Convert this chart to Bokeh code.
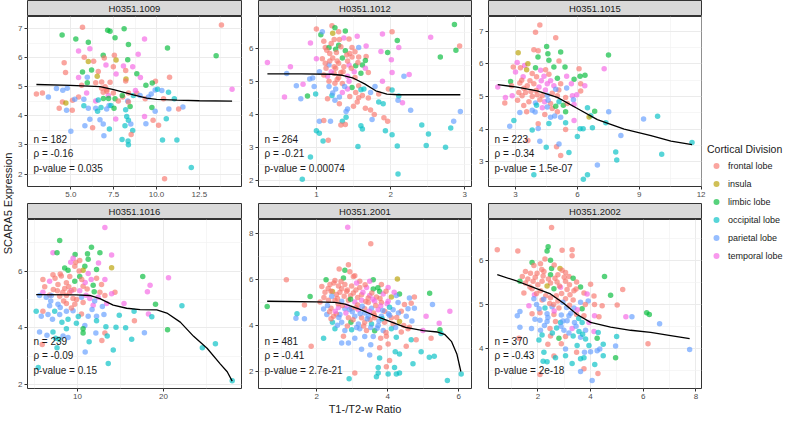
import math
from bokeh.plotting import figure
from bokeh.models import (Range1d, FixedTicker, NumeralTickFormatter, Label,
                          Legend, LegendItem, ColumnDataSource)
from bokeh.layouts import row, column
from bokeh.embed import file_html
from bokeh.resources import INLINE
from bokeh.core.properties import value

FONT = "Liberation Sans"

divisions = ["frontal lobe", "insula", "limbic lobe", "occipital lobe",
             "parietal lobe", "temporal lobe"]
division_codes = ["F", "I", "L", "O", "P", "T"]
division_colors = ["#F8766D", "#B79F00", "#00BA38", "#00BFC4", "#619CFF", "#F564E3"]

panel_names = ["H0351.1009", "H0351.1012", "H0351.1015",
               "H0351.1016", "H0351.2001", "H0351.2002"]
stat_n = ["n = 182", "n = 264", "n = 223", "n = 239", "n = 481", "n = 370"]
stat_rho = ["\u03c1 = -0.16", "\u03c1 = -0.21", "\u03c1 = -0.34",
            "\u03c1 = -0.09", "\u03c1 = -0.41", "\u03c1 = -0.43"]
stat_p = ["p-value = 0.035", "p-value = 0.00074", "p-value = 1.5e-07",
          "p-value = 0.15", "p-value = 2.7e-21", "p-value = 2e-18"]

x_title = "T1-/T2-w Ratio"
y_title = "SCARA5 Expression"
legend_title = "Cortical Division"

# ---------------- panel 1 : H0351.1009 ----------------
p1_x = [13.79, 5.68, 7.15, 7.29, 8.11, 4.49, 5.29, 7.58, 9.30, 6.02,
        8.36, 10.64, 13.48, 5.45, 6.11, 8.93, 6.89, 5.78, 6.95, 7.54,
        4.61, 6.02, 6.33, 7.64, 8.32, 7.05, 7.48, 8.07, 8.61, 4.69,
        5.68, 6.21, 6.60, 8.20, 8.85, 5.45, 5.96, 6.54, 7.64, 8.22,
        9.06, 5.96, 6.45, 6.80, 7.29, 9.38, 9.94, 10.76, 9.75, 5.63,
        2.99, 3.34, 3.69, 4.16, 4.53, 4.79, 5.45, 5.10, 4.51, 4.71,
        4.32, 4.75, 5.08, 5.23, 5.76, 5.92, 6.45, 6.89, 7.09, 7.19,
        7.48, 5.76, 6.02, 6.45, 6.56, 6.76, 7.09, 7.23, 7.34, 7.52,
        7.58, 7.77, 8.03, 8.32, 8.36, 8.46, 8.20, 8.36, 8.65, 8.85,
        8.77, 9.04, 9.34, 9.53, 9.69, 9.92, 10.06, 10.31, 10.41, 10.70,
        11.04, 11.54, 11.29, 10.72, 9.73, 9.92, 9.30, 6.11, 6.70, 6.89,
        7.62, 8.26, 8.36, 8.50, 8.16, 9.80, 10.57, 10.12, 9.38, 5.82,
        6.27, 6.93, 7.25, 8.61, 8.52, 5.00, 7.99, 8.34, 8.36, 10.35,
        11.19, 12.03, 10.47, 14.41, 6.80, 7.00, 7.10, 7.20, 6.90, 6.60,
        8.00, 8.20]
p1_y = [7.13, 7.05, 6.95, 6.91, 7.00, 6.78, 6.65, 6.69, 6.65, 6.53,
        6.46, 6.34, 6.07, 6.23, 6.31, 6.12, 6.09, 6.02, 5.99, 6.09,
        5.83, 5.87, 5.88, 5.92, 5.93, 5.75, 5.69, 5.72, 5.69, 5.49,
        5.51, 5.58, 5.53, 5.56, 5.45, 5.32, 5.33, 5.36, 5.44, 5.27,
        5.32, 5.14, 5.14, 5.17, 5.16, 5.05, 5.19, 5.33, 5.13, 5.05,
        4.75, 4.79, 4.65, 4.94, 4.88, 4.95, 4.65, 4.54, 4.48, 4.44,
        4.26, 4.19, 4.19, 4.57, 4.57, 4.79, 4.51, 4.81, 4.90, 4.70,
        4.79, 4.35, 4.26, 4.26, 4.16, 4.29, 4.24, 4.36, 4.36, 4.26,
        4.59, 4.51, 4.65, 4.51, 4.79, 4.32, 4.21, 4.48, 4.70, 4.78,
        4.87, 4.70, 4.59, 4.65, 4.75, 4.89, 4.92, 4.87, 4.59, 4.81,
        4.59, 4.31, 4.24, 4.24, 4.29, 4.16, 3.98, 3.88, 3.87, 3.72,
        3.89, 3.98, 3.85, 3.72, 3.66, 3.85, 3.90, 3.68, 3.73, 3.66,
        3.59, 3.32, 3.55, 3.50, 3.36, 3.47, 3.19, 3.14, 3.01, 3.17,
        3.17, 2.22, 1.84, 4.92, 4.95, 5.00, 4.85, 4.60, 4.60, 4.55,
        4.70, 5.20]
p1_div = list("FFLLLLLLTL" "LLLTTTLFFF" "FIFILTFTTF" "LLFFLTPITI"
              "TLFFFLFFLF" "FFPPPPFFFI" "FPFPPTTFFT" "FOPPOOPPOL"
              "LFFPFLOFOF" "TPFPPPOPFO" "OPFPLPTPPP" "TOOPOFOFPP"
              "FPOOFPOOOO" "OOFTFFFLLO" "LF")
p1_line_x = [2.99, 5.0, 6.7, 7.5, 8.65, 9.43, 10.0, 11.2, 12.5, 14.41]
p1_line_y = [5.08, 5.05, 5.01, 4.90, 4.72, 4.61, 4.57, 4.54, 4.52, 4.51]

# ---------------- panel 2 : H0351.1012 ----------------
p2_x = [0.34, 0.60, 0.65, 0.73, 0.79, 0.57, 0.82, 0.88, 0.92, 0.91,
        0.95, 0.97, 0.99, 1.00, 1.00, 1.06, 1.08, 1.10, 1.12, 1.21,
        1.22, 1.25, 1.30, 1.39, 1.24, 1.31, 1.37, 1.44, 1.17, 1.26,
        1.39, 1.48, 1.55, 1.57, 1.67, 1.87, 1.89, 2.02, 2.09, 2.11,
        1.96, 2.01, 2.54, 2.67, 2.86, 2.88, 2.93, 1.08, 1.22, 1.35,
        1.48, 1.57, 1.67, 1.66, 1.17, 1.30, 1.44, 1.53, 1.62, 1.66,
        1.13, 1.26, 1.37, 1.04, 1.15, 1.24, 1.33, 1.42, 1.51, 1.60,
        1.70, 1.89, 2.02, 2.18, 2.25, 1.17, 1.28, 1.35, 1.44, 1.48,
        1.57, 1.64, 1.17, 1.26, 1.35, 1.42, 1.53, 1.62, 1.73, 1.79,
        1.84, 1.97, 2.02, 2.11, 2.16, 2.10, 1.84, 1.90, 2.27, 1.57,
        1.55, 1.66, 1.73, 1.78, 1.42, 1.40, 1.31, 1.25, 1.31, 1.21,
        1.15, 1.04, 1.10, 1.19, 1.35, 1.40, 1.39, 1.33, 1.75, 1.91,
        1.96, 1.93, 2.02, 1.60, 1.62, 1.00, 1.04, 1.09, 1.16, 1.56,
        2.09, 2.42, 2.51, 2.48, 2.74, 2.81, 2.85, 2.94, 0.92, 0.81,
        2.10, 1.18, 1.28, 1.36, 1.12, 1.45, 1.30, 1.20, 1.25, 1.14,
        1.20, 1.27, 1.33, 1.41, 1.52, 1.18, 1.42, 1.56, 1.24, 1.47,
        1.10, 1.30, 1.52, 1.38, 1.22, 1.45, 1.60, 1.70, 1.50]
p2_y = [5.58, 5.24, 5.45, 4.87, 4.48, 4.53, 4.92, 4.56, 6.17, 5.08,
        5.11, 4.85, 4.62, 5.69, 6.59, 6.42, 6.51, 6.22, 6.03, 6.69,
        6.46, 6.63, 6.51, 6.53, 6.27, 6.27, 6.32, 6.29, 6.03, 5.98,
        5.93, 6.03, 6.37, 6.03, 6.08, 5.91, 6.44, 6.51, 6.24, 6.03,
        5.88, 5.66, 6.34, 5.74, 6.73, 5.95, 6.08, 5.69, 5.71, 5.71,
        5.74, 5.74, 5.76, 5.64, 5.50, 5.55, 5.50, 5.48, 5.50, 5.40,
        5.40, 5.40, 5.45, 5.30, 5.16, 5.25, 5.27, 5.16, 5.30, 5.25,
        5.27, 5.01, 5.27, 5.16, 5.21, 5.01, 5.06, 4.94, 5.01, 4.82,
        4.87, 4.77, 4.85, 4.77, 4.67, 4.77, 4.67, 4.58, 4.67, 4.85,
        4.62, 4.77, 4.74, 4.56, 4.36, 4.43, 4.38, 4.33, 4.13, 4.51,
        4.38, 4.19, 4.14, 4.00, 4.17, 4.09, 4.33, 4.43, 4.53, 4.58,
        4.48, 3.80, 3.82, 3.80, 3.80, 3.92, 3.70, 3.68, 3.85, 3.90,
        3.80, 3.51, 3.39, 3.66, 3.56, 3.51, 3.43, 3.20, 3.22, 3.03,
        3.05, 3.68, 3.41, 3.06, 3.01, 3.59, 3.80, 4.09, 2.71, 2.04,
        2.20, 5.85, 5.62, 5.30, 5.55, 5.85, 6.10, 5.30, 4.95, 5.95,
        6.15, 5.88, 6.05, 5.80, 5.90, 5.62, 5.62, 5.58, 5.45, 5.40,
        5.20, 5.12, 5.12, 4.85, 4.65, 4.55, 4.75, 4.50, 4.25]
p2_div = list("TPTPPTTLTP" "PPOTFLPFFF" "ILFLFFTFLL" "LFTPTTTFLT"
              "LTTLLLFFFL" "FFFLPFTLLT" "FFFPTFFTTL" "FTTPTFFFTL"
              "FOPPTTFFPP" "FFOOTPOOPF" "FFFFPPFPPO" "FPFPOOFFPF"
              "FOOOOOOOFO" "OOOOOOPPOO" "OFFFFFLTFF" "FFFFFFFFFF"
              "FFFPPFOFF")
p2_line_x = [0.34, 0.8, 1.2, 1.35, 1.5, 1.65, 1.8, 1.95, 2.1, 2.5, 2.94]
p2_line_y = [5.23, 5.23, 5.22, 5.19, 5.10, 4.93, 4.72, 4.62, 4.60, 4.60, 4.60]

# ---------------- panel 3 : H0351.1015 ----------------
p3_x = [4.18, 3.97, 4.95, 3.89, 4.10, 4.51, 4.57, 5.19, 3.13, 4.09,
        7.51, 4.62, 5.11, 3.08, 3.44, 3.60, 2.89, 3.24, 3.54, 3.97,
        4.22, 4.46, 4.86, 5.40, 6.08, 7.30, 3.00, 3.37, 3.81, 4.02,
        4.38, 4.62, 5.03, 5.48, 5.84, 6.13, 6.37, 2.76, 2.14, 2.81,
        3.21, 3.57, 3.89, 4.14, 4.54, 4.86, 5.19, 5.48, 5.71, 6.16,
        6.36, 6.16, 2.51, 2.84, 2.48, 3.16, 3.32, 3.49, 3.81, 4.05,
        4.30, 4.54, 4.78, 5.03, 5.43, 5.76, 5.97, 3.65, 3.97, 4.41,
        4.70, 5.11, 5.32, 5.51, 5.81, 5.84, 3.54, 3.21, 3.81, 4.02,
        4.30, 4.54, 4.78, 5.03, 5.43, 6.49, 6.84, 6.65, 6.57, 7.52,
        4.70, 5.19, 5.43, 5.84, 2.72, 2.92, 4.10, 4.10, 4.62, 3.81,
        5.43, 6.13, 6.28, 6.73, 7.38, 8.11, 6.00, 3.60, 4.18, 4.49,
        4.99, 5.11, 5.59, 5.19, 7.86, 7.91, 6.97, 3.89, 6.49, 6.29,
        9.21, 9.89, 10.09, 11.56, 3.30, 3.70, 4.00, 4.25, 4.70, 5.10,
        3.40, 3.75, 4.45, 4.95, 3.10, 3.40, 4.18, 4.58, 4.95, 3.95,
        4.42, 4.90]
p3_y = [7.19, 6.97, 6.80, 6.43, 6.40, 6.53, 6.31, 6.36, 6.34, 6.21,
        6.27, 6.11, 6.09, 6.04, 5.95, 6.00, 5.90, 5.88, 5.82, 5.88,
        5.80, 5.82, 5.90, 5.90, 5.85, 5.85, 5.75, 5.60, 5.70, 5.60,
        5.62, 5.68, 5.56, 5.62, 5.53, 5.62, 5.65, 5.46, 5.29, 5.33,
        5.41, 5.33, 5.39, 5.29, 5.39, 5.33, 5.39, 5.26, 5.39, 5.39,
        5.33, 5.17, 4.97, 5.02, 4.80, 5.12, 5.02, 5.12, 5.00, 5.05,
        5.02, 5.04, 5.10, 5.02, 4.97, 5.02, 5.05, 4.84, 4.80, 4.84,
        4.78, 4.84, 4.73, 4.78, 4.90, 4.75, 4.53, 4.51, 4.58, 4.73,
        4.65, 4.68, 4.63, 4.53, 4.53, 4.65, 4.55, 4.41, 4.37, 4.53,
        4.36, 4.36, 4.19, 4.26, 4.09, 4.26, 4.16, 4.02, 4.17, 3.97,
        3.99, 4.01, 4.01, 4.04, 4.19, 3.80, 3.77, 3.65, 3.63, 3.44,
        3.46, 3.54, 3.28, 3.19, 3.30, 3.05, 2.90, 2.60, 2.60, 2.46,
        4.31, 4.39, 3.23, 3.59, 5.50, 5.48, 5.18, 5.48, 5.48, 5.20,
        5.25, 5.15, 5.20, 5.22, 4.88, 4.72, 4.90, 4.88, 4.70, 4.52,
        4.45, 4.40]
p3_div = list("FFFFFLLLIL" "LLFTTIFFIL" "TFLLFTTTFF" "TFLTLLLLTF"
              "FFFTTTFPTF" "TFTTFFFFFF" "FPFFFTTFPT" "FOLFPTFPPO"
              "TPFFLOLOIP" "PPOTPOFPOO" "FOOOOPOFPO" "FPOFOOPOOO"
              "POOOFFFTTF" "FFTPFFFPLP" "FP")
p3_line_x = [2.14, 3.0, 4.05, 5.03, 6.0, 6.97, 8.27, 9.57, 10.54, 11.56]
p3_line_y = [5.36, 5.29, 5.17, 4.97, 4.63, 4.29, 4.00, 3.80, 3.63, 3.52]

# ---------------- panel 4 : H0351.1016 ----------------
p4_x = [13.19, 7.94, 7.16, 7.63, 11.63, 12.61, 11.17, 9.73, 13.97, 11.25,
        10.27, 12.45, 9.22, 9.81, 8.52, 8.91, 9.69, 10.86, 12.22, 13.97,
        10.66, 5.99, 7.16, 8.13, 9.11, 10.27, 11.25, 12.22, 13.19, 17.59,
        20.58, 6.77, 7.74, 8.72, 9.69, 10.66, 11.83, 12.80, 18.44, 5.99,
        6.77, 7.67, 8.52, 9.30, 10.27, 11.13, 11.95, 12.61, 14.36, 18.13,
        5.60, 6.38, 6.97, 7.94, 8.72, 9.49, 10.47, 11.44, 12.41, 13.19,
        13.97, 13.39, 15.41, 19.07, 22.14, 6.77, 7.74, 8.72, 9.69, 10.66,
        11.83, 5.21, 5.99, 6.58, 5.80, 7.36, 7.94, 8.72, 9.49, 10.47,
        11.25, 12.22, 13.08, 14.86, 16.58, 18.25, 18.64, 16.62, 8.91, 9.88,
        10.86, 12.22, 10.66, 10.66, 8.72, 13.31, 14.48, 15.60, 20.47, 5.60,
        6.46, 7.16, 8.33, 8.91, 7.47, 7.86, 12.14, 13.19, 13.46, 17.78,
        11.36, 12.84, 16.30, 7.63, 10.90, 14.16, 13.58, 24.51, 26.03, 5.45,
        27.98, 5.91, 8.00, 9.00, 9.90, 10.90, 8.40, 9.30, 11.00, 12.00,
        7.20, 10.20, 6.20, 7.40, 8.30, 9.60, 10.50, 11.60, 6.90, 8.00,
        9.10, 11.70, 12.90, 10.10, 7.10, 8.20, 9.50]
p4_y = [7.54, 7.08, 6.65, 6.65, 6.84, 6.65, 6.61, 6.59, 6.57, 6.42,
        6.37, 6.29, 6.31, 6.31, 6.11, 6.03, 6.17, 6.17, 6.06, 6.12,
        6.03, 5.70, 5.87, 5.83, 5.81, 5.81, 5.92, 5.75, 5.70, 5.81,
        5.77, 5.64, 5.53, 5.59, 5.64, 5.47, 5.50, 5.53, 5.50, 5.25,
        5.16, 5.31, 5.39, 5.31, 5.31, 5.37, 5.27, 5.25, 5.25, 5.27,
        5.14, 5.08, 5.14, 5.11, 5.14, 5.03, 5.08, 5.03, 5.08, 5.14,
        5.20, 4.86, 4.86, 4.83, 4.78, 4.78, 4.83, 4.86, 4.83, 4.89,
        4.80, 4.58, 4.58, 4.47, 4.41, 4.58, 4.47, 4.58, 4.60, 4.49,
        4.41, 4.41, 4.47, 4.44, 4.58, 4.49, 4.39, 4.25, 4.30, 4.16,
        4.08, 4.25, 3.97, 3.82, 3.97, 4.04, 4.02, 4.00, 3.93, 3.85,
        3.74, 3.85, 3.71, 3.66, 3.63, 3.60, 3.82, 3.82, 3.71, 3.83,
        3.51, 3.55, 3.60, 3.30, 3.15, 3.22, 2.74, 3.30, 3.44, 2.60,
        2.13, 3.41, 5.90, 5.45, 5.00, 5.60, 4.95, 4.70, 5.15, 4.95,
        5.35, 6.00, 5.45, 5.75, 5.25, 5.35, 5.70, 5.70, 4.95, 4.72,
        5.25, 4.65, 4.75, 4.40, 4.30, 4.20, 6.45]
p4_div = list("TLTLLLLLTL" "FTTFLLFLLI" "IFFFFLTFTL" "TTFFLFLFTT"
              "FFFTTFLFFT" "PPPFFFPTTF" "TTTLOPPFFF" "TOFPPOPPPF"
              "PPPOOTOFOO" "POLLOOOOLP" "POPPOOPFOP" "OFOOPOOOOO"
              "OFFFFTFFTP" "FFFFFFFTPP" "FPPOPOT")
p4_line_x = [5.21, 9.88, 11.44, 12.61, 14.16, 15.72, 17.28, 19.22, 20.39,
             21.95, 23.50, 25.06, 26.61, 27.40, 27.98]
p4_line_y = [5.17, 5.16, 5.14, 5.03, 4.80, 4.69, 4.64, 4.63, 4.52,
             4.20, 3.70, 3.28, 2.72, 2.45, 2.12]

# ---------------- panel 5 : H0351.2001 ----------------
p5_x = [2.87, 3.52, 2.89, 2.63, 2.79, 2.93, 3.07, 1.14, 2.26, 2.51,
        2.75, 3.03, 3.21, 3.59, 3.49, 4.27, 3.82, 2.14, 2.37, 2.61,
        2.79, 2.98, 3.21, 3.40, 3.59, 3.77, 4.01, 4.33, 5.18, 1.81,
        2.23, 2.44, 2.65, 2.84, 3.03, 3.26, 3.49, 3.68, 3.87, 4.10,
        4.24, 4.61, 4.75, 2.09, 2.33, 2.51, 2.70, 2.89, 3.07, 3.26,
        3.45, 3.63, 3.82, 4.01, 4.29, 4.47, 4.66, 5.26, 0.60, 1.65,
        2.19, 2.40, 2.61, 2.79, 2.98, 3.17, 3.35, 3.54, 3.73, 3.91,
        4.15, 4.38, 4.57, 4.75, 5.75, 1.44, 1.41, 1.65, 2.28, 2.47,
        2.65, 2.89, 3.07, 3.26, 3.45, 3.63, 3.82, 4.10, 4.33, 4.52,
        5.08, 2.44, 2.70, 2.96, 3.17, 3.35, 3.54, 3.73, 3.91, 4.15,
        4.61, 5.45, 2.51, 2.79, 2.98, 3.21, 3.40, 3.63, 3.87, 4.10,
        4.38, 4.57, 4.99, 5.47, 2.75, 3.07, 3.35, 3.59, 3.80, 3.96,
        4.24, 4.66, 4.80, 5.22, 5.50, 2.19, 1.84, 2.70, 2.89, 3.26,
        3.52, 3.77, 4.01, 4.21, 4.33, 4.52, 4.94, 5.17, 5.31, 3.49,
        3.77, 4.05, 3.73, 3.96, 4.19, 4.71, 3.73, 4.01, 4.24, 4.33,
        3.68, 2.91, 3.07, 5.68, 6.07, 2.40, 2.55, 2.70, 2.95, 3.10,
        3.30, 3.45, 2.60, 2.85, 3.15, 3.35, 3.60, 3.00, 2.55, 3.80,
        4.05, 2.40, 3.50, 3.75, 4.30, 2.32, 2.48, 2.68, 2.86, 3.12,
        3.36, 3.55, 3.72, 3.95, 4.18, 2.20, 2.42, 2.58, 2.77, 2.95,
        3.15, 3.38, 3.58, 3.78, 3.98, 2.30, 2.52, 2.72, 2.92, 3.10,
        3.28, 3.48, 3.66, 3.86, 4.05, 2.36, 2.62, 2.82, 3.02, 3.22,
        3.42, 3.62, 3.84, 4.02, 4.25, 2.58, 2.86, 3.12, 3.32, 3.52,
        3.70, 3.95, 4.22, 4.45, 4.68]
p5_y = [8.28, 7.56, 6.65, 6.46, 6.41, 6.34, 6.17, 6.00, 6.00, 5.96,
        6.07, 6.14, 5.93, 6.00, 5.93, 6.03, 5.79, 5.70, 5.79, 5.72,
        5.79, 5.72, 5.66, 5.66, 5.59, 5.48, 5.66, 5.38, 5.41, 5.27,
        5.45, 5.48, 5.45, 5.48, 5.42, 5.34, 5.31, 5.24, 5.38, 5.24,
        5.31, 5.20, 5.24, 5.03, 5.10, 5.10, 5.06, 5.10, 5.03, 5.10,
        5.01, 5.06, 5.01, 5.06, 5.01, 4.92, 4.97, 4.92, 4.83, 4.90,
        4.72, 4.76, 4.79, 4.73, 4.76, 4.69, 4.73, 4.76, 4.69, 4.62,
        4.69, 4.62, 4.73, 4.76, 4.62, 4.52, 4.32, 4.30, 4.48, 4.41,
        4.48, 4.34, 4.41, 4.34, 4.41, 4.34, 4.41, 4.34, 4.18, 4.41,
        4.41, 4.14, 4.14, 4.14, 4.07, 4.14, 4.07, 4.00, 4.14, 4.07,
        3.93, 4.10, 3.86, 3.79, 3.82, 3.86, 3.79, 3.77, 3.79, 3.86,
        3.72, 3.86, 3.79, 3.82, 3.54, 3.45, 3.52, 3.52, 3.45, 3.54,
        3.49, 3.38, 3.38, 3.45, 3.66, 3.45, 3.10, 3.24, 3.24, 2.97,
        3.17, 3.03, 3.20, 2.86, 2.76, 3.10, 2.86, 2.62, 2.66, 2.72,
        2.59, 2.48, 2.17, 2.21, 2.17, 2.34, 1.93, 1.89, 1.89, 1.93,
        1.77, 1.68, 1.93, 1.61, 1.89, 5.50, 5.35, 5.60, 5.30, 5.55,
        5.45, 5.20, 4.95, 4.85, 4.90, 4.55, 4.55, 4.60, 4.50, 4.85,
        4.45, 4.30, 4.25, 4.20, 4.55, 5.62, 5.85, 5.92, 5.55, 5.85,
        5.78, 5.42, 5.65, 5.50, 5.45, 5.22, 5.28, 5.18, 5.28, 5.15,
        5.22, 5.05, 5.15, 5.18, 4.95, 4.88, 4.62, 4.88, 4.70, 4.78,
        4.84, 4.62, 4.88, 4.66, 4.80, 4.60, 4.35, 4.55, 4.25, 4.52,
        4.30, 4.45, 4.30, 4.52, 4.35, 4.02, 3.98, 3.92, 3.98, 3.92,
        3.88, 3.70, 3.92, 4.00, 4.20]
p5_div = list("TFFFLFFFLF" "LFFLTIFFFF" "FFFTLLTLLL" "FIFFFFTFTI"
              "PPFFFFPFTT" "FTFTPFFPLF" "PFTPFTFPTF" "PFPPTOPPPF"
              "PFPFPFPFIP" "TOPLPFOPFF" "FTOPOPFLPO" "FFTLFPPPFF"
              "OOFFOOFPPP" "PFFOOFOOOP" "OFOFOOOOOO" "OOFOOFFFFF"
              "TFFTFPFPFT" "PFFPPFFFFT" "FFLFTFPFFL" "FFTFTPTFPF"
              "PTFPOFPTFP" "PFOPFPFPFP" "PFPFP")
p5_line_x = [0.60, 2.0, 2.5, 2.8, 3.2, 3.6, 4.0, 4.5, 5.0, 5.4, 5.6, 5.8, 5.95, 6.06]
p5_line_y = [5.06, 5.03, 5.01, 4.93, 4.72, 4.45, 4.22, 3.92, 3.78, 3.72, 3.62, 3.30, 2.75, 2.00]

# ---------------- panel 6 : H0351.2002 ----------------
p6_x = [2.52, 0.46, 1.24, 2.39, 2.35, 2.48, 2.27, 2.92, 3.30, 3.30,
        1.78, 1.85, 2.10, 2.84, 2.92, 2.52, 3.05, 1.53, 1.41, 1.72,
        1.97, 2.23, 2.48, 2.76, 3.18, 3.34, 4.53, 1.32, 1.53, 1.82,
        2.16, 2.48, 2.73, 3.05, 3.47, 4.00, 3.62, 1.47, 1.78, 1.87,
        2.10, 2.35, 2.61, 2.86, 3.11, 3.37, 3.75, 3.87, 4.13, 4.76,
        5.22, 1.85, 2.16, 2.48, 2.76, 3.05, 3.34, 3.62, 3.91, 4.15,
        4.44, 5.01, 1.66, 1.95, 2.27, 2.54, 2.80, 3.09, 3.37, 3.68,
        1.78, 2.08, 2.35, 2.61, 2.89, 3.18, 3.47, 3.75, 4.15, 4.32,
        5.34, 5.57, 6.13, 6.23, 6.62, 1.22, 1.32, 1.89, 2.08, 2.35,
        2.67, 2.86, 3.11, 3.39, 3.68, 3.94, 1.32, 1.76, 2.10, 2.46,
        2.71, 2.99, 3.30, 3.56, 3.81, 4.13, 4.29, 2.16, 2.48, 2.80,
        3.05, 3.34, 3.62, 3.81, 4.25, 4.99, 1.28, 2.04, 2.38, 2.89,
        3.05, 3.49, 3.94, 4.35, 4.48, 6.18, 4.95, 2.23, 2.61, 3.05,
        3.47, 3.77, 4.00, 4.25, 4.48, 4.95, 2.67, 3.62, 3.75, 2.20,
        2.35, 3.30, 3.75, 4.16, 3.62, 2.08, 4.28, 4.06, 7.76, 2.00,
        2.30, 2.65, 2.90, 3.20, 2.20, 2.60, 1.62, 1.90, 2.15, 2.40,
        2.62, 2.82, 3.00, 3.22, 3.45, 1.70, 1.95, 2.22, 2.45, 2.70,
        2.95, 3.20, 3.50, 3.80, 2.05, 2.38, 2.62, 2.95, 3.25, 3.55,
        2.25, 2.55, 2.88, 3.18, 3.45, 3.70]
p6_y = [6.76, 6.25, 6.22, 6.32, 6.22, 6.01, 6.04, 6.24, 6.25, 6.11,
        5.96, 5.89, 5.93, 5.82, 5.78, 5.82, 5.73, 5.75, 5.64, 5.71,
        5.71, 5.75, 5.68, 5.68, 5.64, 5.60, 5.64, 5.53, 5.49, 5.53,
        5.53, 5.49, 5.51, 5.53, 5.51, 5.46, 5.40, 5.26, 5.36, 5.22,
        5.31, 5.42, 5.36, 5.39, 5.34, 5.31, 5.26, 5.24, 5.19, 5.21,
        5.34, 5.13, 5.10, 5.15, 5.08, 5.13, 5.10, 5.05, 5.08, 5.00,
        4.97, 4.99, 4.97, 5.00, 4.92, 4.95, 4.92, 4.93, 4.92, 4.90,
        4.79, 4.81, 4.79, 4.77, 4.76, 4.74, 4.77, 4.74, 4.74, 4.72,
        4.72, 4.72, 4.81, 4.77, 4.56, 4.74, 4.84, 4.66, 4.64, 4.61,
        4.61, 4.59, 4.63, 4.59, 4.59, 4.59, 4.48, 4.45, 4.41, 4.45,
        4.46, 4.41, 4.45, 4.38, 4.41, 4.38, 4.36, 4.30, 4.28, 4.23,
        4.27, 4.28, 4.25, 4.21, 4.23, 4.27, 4.23, 4.19, 4.09, 4.10,
        3.98, 4.06, 4.06, 3.98, 4.09, 4.10, 4.05, 3.91, 3.82, 3.83,
        3.91, 3.91, 3.92, 3.94, 3.83, 3.78, 3.78, 3.76, 3.78, 3.70,
        3.69, 3.65, 3.53, 3.63, 3.47, 3.40, 3.42, 3.26, 3.97, 5.45,
        5.20, 5.60, 5.25, 5.45, 5.65, 5.00, 5.58, 5.62, 5.80, 5.58,
        5.90, 5.42, 5.62, 5.22, 5.35, 5.40, 5.25, 5.12, 5.02, 5.20,
        5.05, 4.98, 4.88, 5.00, 4.90, 4.70, 4.85, 4.62, 4.80, 4.68,
        4.52, 4.35, 4.50, 4.35, 4.50, 4.32]
p6_div = list("FFFLLLFFFF" "LFFIFLFFFF" "FFLFFLLLFF" "FFFFFFLFFT"
              "FILTFFFTFL" "FPFFFFFPPF" "FFTPOPFPPL" "FFPFPPFFTF"
              "TPLLPPPPPP" "FOPPOTPPPF" "OPTOPTOOFL" "FOPOLOFOFF"
              "POOPOFPOFO" "FPPPOLOOOO" "OOFOPFFPPF" "FFFFFFFFFF"
              "FFFFFFFPFF" "PFTFPPTPPO" "POPPPO")
p6_line_x = [0.46, 1.22, 2.0, 2.48, 2.99, 3.49, 4.0, 4.76, 5.52, 6.28, 7.04, 7.76]
p6_line_y = [5.68, 5.53, 5.35, 5.24, 5.02, 4.77, 4.59, 4.48, 4.41, 4.36, 4.29, 4.22]

# ---------------- scales: ranges and tick values ----------------
x_ranges = [(2.47, 14.96), (0.22, 3.09), (1.69, 12.02),
            (4.2, 29.06), (0.355, 6.36), (0.127, 8.21)]
y_ranges = [(1.57, 7.42), (1.82, 6.97), (2.24, 7.45),
            (1.86, 7.82), (1.26, 8.62), (3.08, 6.94)]
x_ticks = [[5, 7.5, 10, 12.5], [1, 2, 3], [3, 6, 9, 12],
           [10, 20], [2, 4, 6], [2, 4, 6, 8]]
x_minor = [[3.75, 6.25, 8.75, 11.25, 13.75], [0.5, 1.5, 2.5], [4.5, 7.5, 10.5],
           [5, 15, 25], [1, 3, 5], [1, 3, 5, 7]]
y_ticks = [[2, 3, 4, 5, 6, 7], [2, 3, 4, 5, 6], [3, 4, 5, 6, 7],
           [2, 4, 6], [2, 4, 6, 8], [4, 5, 6]]
y_minor = [[2.5, 3.5, 4.5, 5.5, 6.5], [2.5, 3.5, 4.5, 5.5, 6.5],
           [2.5, 3.5, 4.5, 5.5, 6.5], [3, 5, 7], [3, 5, 7], [3.5, 4.5, 5.5, 6.5]]

pts_x = [p1_x, p2_x, p3_x, p4_x, p5_x, p6_x]
pts_y = [p1_y, p2_y, p3_y, p4_y, p5_y, p6_y]
pts_div = [p1_div, p2_div, p3_div, p4_div, p5_div, p6_div]
lines_x = [p1_line_x, p2_line_x, p3_line_x, p4_line_x, p5_line_x, p6_line_x]
lines_y = [p1_line_y, p2_line_y, p3_line_y, p4_line_y, p5_line_y, p6_line_y]

color_of = dict(zip(division_codes, division_colors))

# ---------------- layout constants (pixels) ----------------
FRAME_W = [214, 213, 213]
MIN_L = [13, 12, 12]
MIN_R = 5
FRAME_H = [170, 169]
BOTTOM = [17, 30]
STRIP_H = 16
YLAB_W = 14
LEG_W = 78
TOTAL_H = 418
GRID_C = "#EBEBEB"
BORDER_C = "#333333"
ALPHA = 0.66


def make_strip(i):
    c = i % 3
    s = figure(width=MIN_L[c] + FRAME_W[c] + MIN_R, height=STRIP_H,
               x_range=Range1d(0, 1), y_range=Range1d(0, 1),
               toolbar_location=None, output_backend="svg",
               x_axis_location=None, y_axis_location=None,
               min_border_left=MIN_L[c], min_border_right=MIN_R,
               min_border_top=0, min_border_bottom=0,
               background_fill_color="#D9D9D9", outline_line_color=BORDER_C)
    s.grid.visible = False
    s.text(x=[0.5], y=[0.5], text=[panel_names[i]], text_align="center",
           text_baseline="middle", text_font=value(FONT),
           text_font_size="9.5px", text_color="#1A1A1A")
    return s


def make_panel(i):
    c = i % 3
    r = i // 3
    fh = FRAME_H[r]
    mb = BOTTOM[r]
    xr, yr = x_ranges[i], y_ranges[i]
    p = figure(width=MIN_L[c] + FRAME_W[c] + MIN_R, height=fh + mb,
               x_range=Range1d(*xr), y_range=Range1d(*yr),
               toolbar_location=None, output_backend="svg",
               min_border_left=MIN_L[c], min_border_right=MIN_R,
               min_border_top=0, min_border_bottom=mb,
               background_fill_color="white", border_fill_color="white",
               outline_line_color=BORDER_C, outline_line_width=1)
    p.xaxis.ticker = FixedTicker(ticks=x_ticks[i], minor_ticks=x_minor[i])
    p.yaxis.ticker = FixedTicker(ticks=y_ticks[i], minor_ticks=y_minor[i])
    if i == 0:
        p.xaxis.formatter = NumeralTickFormatter(format="0.0")
    for ax in (p.xaxis[0], p.yaxis[0]):
        ax.axis_line_color = None
        ax.major_tick_line_color = BORDER_C
        ax.major_tick_out = 3
        ax.major_tick_in = 0
        ax.minor_tick_out = 0
        ax.minor_tick_in = 0
        ax.major_label_standoff = 2
        ax.major_label_text_font = FONT
        ax.major_label_text_font_size = "8px"
        ax.major_label_text_color = "#4D4D4D"
    if i == 4:
        p.xaxis.axis_label = x_title
        p.xaxis.axis_label_text_font = FONT
        p.xaxis.axis_label_text_font_size = "11px"
        p.xaxis.axis_label_text_font_style = "normal"
        p.xaxis.axis_label_text_color = "#1A1A1A"
        p.xaxis.axis_label_standoff = 1
    p.grid.grid_line_color = GRID_C
    p.grid.grid_line_width = 1
    p.grid.minor_grid_line_color = "#F2F2F2"
    p.grid.minor_grid_line_width = 0.7

    src = ColumnDataSource(dict(x=pts_x[i], y=pts_y[i],
                                color=[color_of[d] for d in pts_div[i]]))
    p.scatter("x", "y", source=src, size=5.5, fill_color="color",
              fill_alpha=ALPHA, line_color=None)
    p.line(lines_x[i], lines_y[i], line_color="black", line_width=1.3)

    fw = FRAME_W[c]
    lx = xr[0] + 6 / fw * (xr[1] - xr[0])
    for txt, off in ((stat_n[i], 47.5), (stat_rho[i], 33), (stat_p[i], 18.5)):
        ly = yr[0] + off / fh * (yr[1] - yr[0])
        p.add_layout(Label(x=lx, y=ly, text=txt, text_font=FONT,
                           text_font_size="10px", text_color="#1A1A1A",
                           text_baseline="middle", text_align="left"))
    return p


cols = [column(make_strip(i), make_panel(i)) for i in range(6)]
panels = column(row(*cols[:3]), row(*cols[3:]))

# y-axis title
ylab = figure(width=YLAB_W, height=TOTAL_H, x_range=Range1d(0, YLAB_W),
              y_range=Range1d(0, TOTAL_H), toolbar_location=None,
              output_backend="svg", x_axis_location=None, y_axis_location=None,
              min_border=0, outline_line_color=None)
ylab.grid.visible = False
ylab.text(x=[YLAB_W / 2], y=[TOTAL_H - 203], text=[y_title],
          angle=math.pi / 2, text_align="center", text_baseline="middle",
          text_font=value(FONT), text_font_size="11px", text_color="#1A1A1A")

# legend
lf = figure(width=LEG_W, height=TOTAL_H, x_range=Range1d(0, 1),
            y_range=Range1d(0, 1), toolbar_location=None, output_backend="svg",
            x_axis_location=None, y_axis_location=None, min_border=0,
            outline_line_color=None)
lf.grid.visible = False
items = []
for name, col in zip(divisions, division_colors):
    rr = lf.scatter(x=[float("nan")], y=[float("nan")], size=5.5,
                    fill_color=col, fill_alpha=ALPHA, line_color=None)
    items.append(LegendItem(label=name, renderers=[rr]))
leg = Legend(items=items, title=legend_title, location=(1, 155),
             padding=0, margin=0, spacing=3, glyph_width=18, glyph_height=15,
             label_height=15, label_standoff=3,
             label_text_font=FONT, label_text_font_size="9px",
             label_text_color="#1A1A1A",
             title_text_font=FONT, title_text_font_size="10.5px",
             title_text_font_style="normal", title_text_color="#1A1A1A",
             title_standoff=3, background_fill_alpha=0, border_line_color=None)
lf.add_layout(leg)

layout = row(ylab, panels, lf)

open("out.html", "w").write(file_html(layout, INLINE))
